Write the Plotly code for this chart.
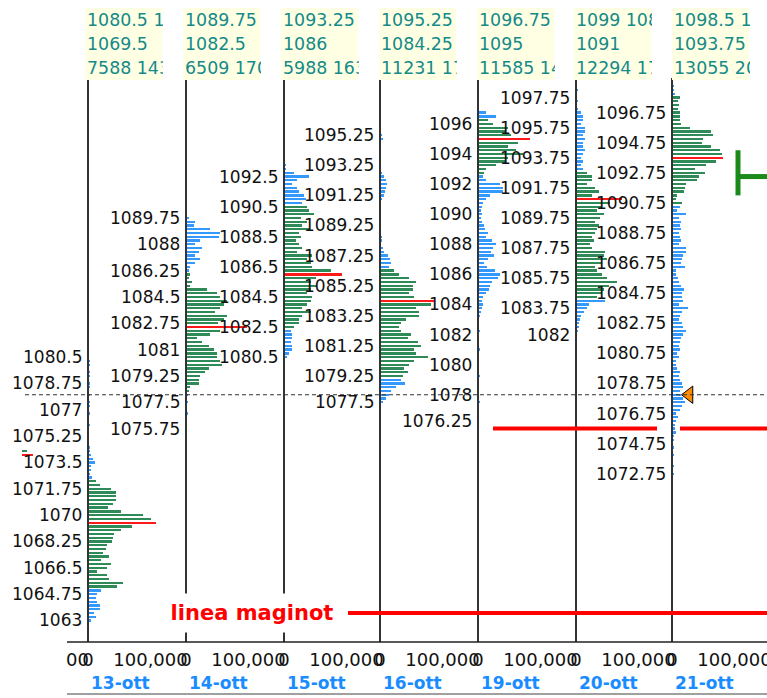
import plotly.graph_objects as go

W, H = 767, 698
TOP, BOT = 78, 642          # pixel rows of plot top / x-axis
Y_RANGE = [1061.57, 1099.05]
VOL_UNIT = 1600             # volumes below are in units of 1,600 contracts

days = ["13-ott", "14-ott", "15-ott", "16-ott", "19-ott", "20-ott", "21-ott"]
line_px = [88, 186, 284, 380, 478, 576, 672]
header_left_px = [85, 183, 281, 379, 477, 574, 672]

highs = [1080.5, 1089.75, 1093.25, 1095.25, 1096.75, 1099.0, 1098.5]
pocs = [1069.5, 1082.5, 1086.0, 1084.25, 1095.0, 1091.0, 1093.75]
va_high = [1072.25, 1086.0, 1090.5, 1086.25, 1096.25, 1092.75, 1097.75]
va_low = [1065.25, 1078.25, 1082.5, 1079.25, 1092.75, 1084.5, 1090.75]

vol_13 = [1, 2, 2, 1, 2, 2, 1, 2, 2, 1, 2, 1, 2, 2, 1, 2, 1, 1, 2, 1, 1, 1, 1, 1, 2, 2,
          3, 5, 7, 3, 3, 2, 4,
          8, 12, 23, 28, 28, 28, 25, 20, 33, 55, 63, 68,
          44, 33, 26, 25, 24, 19, 18, 15, 21, 13, 23, 19, 9, 19, 21, 35, 29, 13, 9, 8, 9,
          12, 12, 6, 8, 3]
vol_14 = [3, 9, 8, 24, 34, 33, 14, 9, 16, 13, 9, 14, 9, 4, 3,
          4, 3, 6, 4, 21, 31, 34, 41, 38, 34, 29, 41, 38, 32,
          61,
          34, 24, 11, 16, 23, 28, 31, 31, 34, 36, 23, 19, 14, 13, 13, 4, 3,
          2, 1, 2, 1, 1, 2, 1, 1, 1, 1]
vol_15 = [2, 2, 10, 25, 13, 8, 13, 15, 20, 22, 18,
          23, 25, 30, 17, 23, 18, 25, 15, 17, 12, 15, 18, 13, 28, 23, 27, 28, 47,
          58,
          32, 27, 33, 27, 23, 28, 27, 23, 18, 27, 18, 15, 15, 10,
          7, 8, 8, 7, 8, 8, 5, 3]
vol_16 = [2, 3, 1, 1, 1, 1, 1, 1, 1, 1, 2, 4, 6, 7, 6, 5, 4, 2, 1, 1, 1, 1, 1, 1, 1, 1, 1,
          2, 2, 1, 3,
          4, 8, 10, 11, 9, 14, 19, 29, 36, 33, 33, 29, 34,
          54,
          51, 36, 39, 39, 26, 21, 19, 21, 31, 28, 38, 41, 34, 36, 48, 34, 29, 24, 28, 23,
          21, 25, 16, 11, 9, 6, 3]
vol_19 = [8, 18, 10, 15, 30, 28, 33,
          52,
          40, 30, 38, 45, 30, 28, 18, 8, 6,
          5, 8, 22, 25, 25, 12, 8, 5, 4, 3,
          4, 3, 4, 6, 7, 10, 8, 14, 18, 15,
          13, 16, 10, 6, 9, 17, 22, 20, 14, 12,
          11, 8, 5, 4, 5, 4, 3, 2, 1,
          1, 1, 2, 1, 1, 1, 1, 2, 1, 1, 1, 1, 1, 1, 2, 1, 1, 1, 1, 1, 1, 2, 1, 1, 1, 1, 1]
vol_20 = [2, 1, 1, 2, 1, 1, 2, 1, 2,
          5, 7, 7, 5, 9, 9, 7, 9, 7, 7, 9, 7, 5, 7, 5, 7,
          11, 16, 16, 11, 19, 23, 16,
          46,
          34, 26, 21, 28, 24, 19, 23, 21, 19, 16, 18, 14, 16, 29, 28, 31, 26, 19, 21, 26,
          31, 41, 33, 28, 26, 21,
          29, 13, 11, 8, 5, 4, 3, 3, 2, 1]
vol_21 = [2, 2, 3,
          8, 6, 7, 6, 8, 8, 8, 9, 18, 39, 41, 31, 30, 39, 48, 50,
          51,
          44, 34, 23, 33, 27, 25, 14, 13, 12, 5, 4, 10,
          8, 5, 14, 7, 9, 8, 9, 7, 8, 9, 7, 14, 14, 11, 10, 9, 13, 4, 4, 6,
          7, 9, 12, 10, 10, 11, 7, 16, 10, 8, 7, 10, 11, 14, 11, 9, 8, 7, 8, 5,
          7, 4, 4, 5, 8, 7, 8, 10, 11, 8, 9, 11, 13, 10, 8, 4, 6,
          4, 3, 3, 4, 2, 2, 1, 2, 1, 2, 1, 1, 2, 1, 2, 1]
vols = [vol_13, vol_14, vol_15, vol_16, vol_19, vol_20, vol_21]

# partially visible profile of the previous (scrolled-out) session
prev_prices = [1074.25, 1074.0]
prev_vols = [37, 43]

header_line1 = ["1080.5 1063", "1089.75 1075.75", "1093.25 1080.5", "1095.25 1077.5",
                "1096.75 1076.25", "1099 1082", "1098.5 1072.5"]
header_line2 = ["1069.5", "1082.5", "1086", "1084.25", "1095", "1091", "1093.75"]
header_line3 = ["7588 1432", "6509 1705", "5988 1632", "11231 1725", "11585 1450",
                "12294 1750", "13055 2010"]

price_labels = [
    [1080.5, 1078.75, 1077, 1075.25, 1073.5, 1071.75, 1070, 1068.25, 1066.5, 1064.75, 1063],
    [1089.75, 1088, 1086.25, 1084.5, 1082.75, 1081, 1079.25, 1077.5, 1075.75],
    [1092.5, 1090.5, 1088.5, 1086.5, 1084.5, 1082.5, 1080.5],
    [1095.25, 1093.25, 1091.25, 1089.25, 1087.25, 1085.25, 1083.25, 1081.25, 1079.25, 1077.5],
    [1096, 1094, 1092, 1090, 1088, 1086, 1084, 1082, 1080, 1078, 1076.25],
    [1097.75, 1095.75, 1093.75, 1091.75, 1089.75, 1087.75, 1085.75, 1083.75, 1082],
    [1096.75, 1094.75, 1092.75, 1090.75, 1088.75, 1086.75, 1084.75, 1082.75, 1080.75,
     1078.75, 1076.75, 1074.75, 1072.75],
]

last_price = 1078.0
last_marker_vol = 17          # position of the orange arrow (units of 1,600)
maginot_level = 1063.5
red_level = 1075.75
bracket_top, bracket_mid, bracket_bot = 1094.25, 1092.5, 1091.25

GREEN = "#2e8b57"
BLUE = "#3399ff"
RED = "#ff1a1a"
TEAL = "#148a8a"
FONT = "DejaVu Sans"


def px(x):
    return x / W


def py(y):
    return (BOT - y) / (BOT - TOP)


def fmt(v):
    s = f"{v:.2f}".rstrip("0").rstrip(".")
    return s


fig = go.Figure()
layout_axes = {}
shapes = []
annotations = []

for i, (day, L) in enumerate(zip(days, line_px)):
    ax_id = "x" if i == 0 else f"x{i + 1}"
    ax_key = "xaxis" if i == 0 else f"xaxis{i + 1}"
    nxt = line_px[i + 1] if i + 1 < len(line_px) else W + 3
    prices = [highs[i] - 0.25 * k for k in range(len(vols[i]))]
    colors = []
    for p in prices:
        if abs(p - pocs[i]) < 1e-6:
            colors.append(RED)
        elif va_low[i] - 1e-6 <= p <= va_high[i] + 1e-6:
            colors.append(GREEN)
        else:
            colors.append(BLUE)
    fig.add_trace(go.Bar(
        orientation="h", y=prices, x=[v * VOL_UNIT for v in vols[i]],
        marker=dict(color=colors, line=dict(width=0)), width=0.15,
        xaxis=ax_id, yaxis="y", showlegend=False, hoverinfo="skip"))
    layout_axes[ax_key] = dict(
        domain=[px(L - 3), min(1.0, px(nxt - 3))],
        range=[-3 * VOL_UNIT, (min(nxt, W + 3) - L - 3) * VOL_UNIT],
        anchor="y", showgrid=False, zeroline=False, showline=False, automargin=False,
        tickmode="array", tickvals=[0, 100000], ticktext=["0", "100,000"],
        ticks="outside", ticklen=1, tickcolor="rgba(0,0,0,0)",
        ticklabeloverflow="allow",
        tickfont=dict(family=FONT, size=18, color="#111"))
    # session axis line
    shapes.append(dict(type="line", xref=ax_id, yref="paper", x0=0, x1=0, y0=0, y1=1,
                       line=dict(color="#333333", width=2), layer="above"))
    # header box
    hl = header_left_px[i]
    shapes.append(dict(type="rect", xref="paper", yref="paper",
                       x0=px(hl), x1=px(hl + 77), y0=py(80), y1=py(8),
                       fillcolor="#ffffe3", line=dict(width=0), layer="above"))
    for txt, yy in zip([header_line1[i], header_line2[i], header_line3[i]], [20, 44, 68]):
        annotations.append(dict(xref="paper", yref="paper", x=px(hl + 1), y=py(yy),
                                xanchor="left", yanchor="middle", text=txt,
                                showarrow=False, align="left", width=76, height=22,
                                borderpad=0,
                                font=dict(family=FONT, size=17.4, color=TEAL)))
    # price labels
    for p in price_labels[i]:
        annotations.append(dict(xref="paper", yref="y", x=px(L - 4), y=p,
                                xanchor="right", yanchor="middle", text=fmt(p),
                                showarrow=False,
                                font=dict(family=FONT, size=17, color="#111")))
    # date label
    annotations.append(dict(xref="paper", yref="paper", x=px(L + 1), y=py(683),
                            xanchor="left", yanchor="middle", text=f"<b>{day}</b>",
                            showarrow=False,
                            font=dict(family=FONT, size=17, color="#1a8cff")))

# clipped tick label of the scrolled-out session
annotations.append(dict(xref="paper", yref="paper", x=px(91), y=py(659), xanchor="right",
                        yanchor="middle", text="00", showarrow=False,
                        font=dict(family=FONT, size=18, color="#111")))

# previous session stub
fig.add_trace(go.Bar(orientation="h", y=prev_prices, x=[v * VOL_UNIT for v in prev_vols],
                     marker=dict(color=[GREEN, RED], line=dict(width=0)), width=0.15,
                     xaxis="x8", yaxis="y", showlegend=False, hoverinfo="skip"))
layout_axes["xaxis8"] = dict(domain=[px(22), px(85)], range=[32 * VOL_UNIT, 95 * VOL_UNIT],
                             anchor="y", visible=False, automargin=False)

# last price arrow
fig.add_trace(go.Scatter(x=[last_marker_vol * VOL_UNIT], y=[last_price], mode="markers",
                         marker=dict(symbol="triangle-left", size=15, color="#ff8c00",
                                     line=dict(color="#000", width=1)),
                         xaxis="x7", yaxis="y", showlegend=False, hoverinfo="skip"))

# x axis baseline and bottom rule
shapes.append(dict(type="line", xref="paper", yref="paper", x0=px(67), x1=1, y0=0, y1=0,
                   line=dict(color="#222", width=1.5), layer="above"))
shapes.append(dict(type="line", xref="paper", yref="paper", x0=px(67), x1=1,
                   y0=py(694), y1=py(694), line=dict(color="#a0a0a0", width=2)))
# last price dashed line
shapes.append(dict(type="line", xref="paper", yref="y", x0=px(25), x1=1,
                   y0=last_price, y1=last_price,
                   line=dict(color="#333", width=1, dash="4px,3px"), layer="above"))
# red drawn levels
shapes.append(dict(type="line", xref="paper", yref="y", x0=px(493), x1=px(657),
                   y0=red_level, y1=red_level, line=dict(color="#ff0000", width=4), layer="above"))
shapes.append(dict(type="line", xref="paper", yref="y", x0=px(680), x1=1,
                   y0=red_level, y1=red_level, line=dict(color="#ff0000", width=4), layer="above"))
shapes.append(dict(type="line", xref="paper", yref="y", x0=px(348), x1=1,
                   y0=maginot_level, y1=maginot_level,
                   line=dict(color="#ff0000", width=4), layer="above"))
# green bracket
shapes.append(dict(type="line", xref="paper", yref="y", x0=px(738), x1=px(738),
                   y0=bracket_bot, y1=bracket_top, line=dict(color="#1a8a1a", width=5), layer="above"))
shapes.append(dict(type="line", xref="paper", yref="y", x0=px(738), x1=1,
                   y0=bracket_mid, y1=bracket_mid, line=dict(color="#1a8a1a", width=5), layer="above"))

annotations.append(dict(xref="paper", yref="y", x=px(252), y=maginot_level,
                        xanchor="center", yanchor="middle", text="<b>linea maginot</b>",
                        showarrow=False, bgcolor="#ffffff", width=178, height=36,
                        font=dict(family=FONT, size=21, color="#ff0000")))

fig.update_layout(
    template="none",
    width=W, height=H, margin=dict(l=0, r=0, t=TOP, b=H - BOT, pad=0, autoexpand=False),
    paper_bgcolor="white", plot_bgcolor="white",
    yaxis=dict(range=Y_RANGE, visible=False, domain=[0, 1], automargin=False,
               showgrid=False, zeroline=False),
    shapes=shapes, annotations=annotations, bargap=0, showlegend=False,
    **layout_axes)

fig.write_html("out.html", config={"displayModeBar": False},
               post_script="document.body.style.margin='0px';"
                           "document.body.style.overflow='hidden';")
